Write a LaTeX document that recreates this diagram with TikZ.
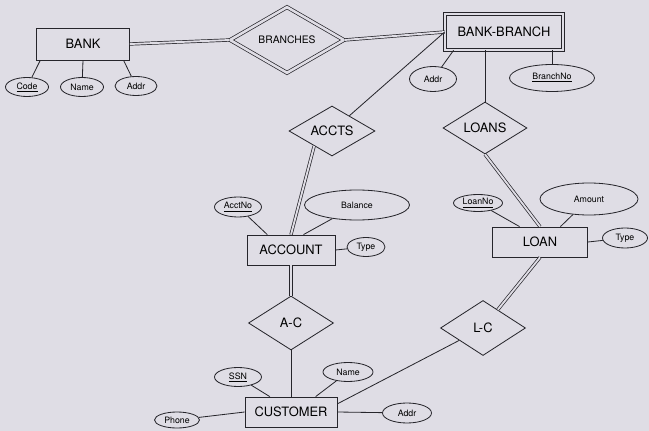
\documentclass[tikz,border=0pt]{standalone}
\usepackage{fontspec}
\setmainfont{TeX Gyre Heros}
\usepackage{tikz}
\usetikzlibrary{shapes.geometric}
\definecolor{paper}{HTML}{DFDDE5}
\definecolor{ink}{HTML}{26252B}
\tikzset{
  entity/.style={draw=ink,line width=0.7pt,minimum height=9mm,inner sep=0pt,
                 font=\fontsize{11}{12}\selectfont},
  weakentity/.style={entity,double=paper,double distance=2.2pt,line width=0.6pt},
  rel/.style={diamond,aspect=1.7,draw=ink,line width=0.7pt,inner sep=0pt,
              font=\fontsize{11}{12}\selectfont},
  idrel/.style={rel,double=paper,double distance=2.2pt,line width=0.6pt},
  attr/.style={ellipse,draw=ink,line width=0.7pt,inner sep=0pt,
               font=\fontsize{7.5}{8}\selectfont},
  link/.style={draw=ink,line width=0.7pt},
  total/.style={draw=ink,double=paper,double distance=1.6pt,line width=0.6pt}
}
\begin{document}
\begin{tikzpicture}[x=0.03cm,y=-0.03cm]
\useasboundingbox (0,0) rectangle (649,431);
\fill[paper] (0,0) rectangle (649,431);
% entities and relationships
\node[entity,minimum width=27.9mm,minimum height=9.6mm] (bank) at (83,44) {BANK};
\node[idrel,minimum width=34.2mm,minimum height=19.8mm,font=\fontsize{8.8}{10}\selectfont] (branches) at (287,40) {BRANCHES};
\node[weakentity,minimum width=35.4mm,minimum height=10.8mm] (bankbranch) at (504,32) {BANK-BRANCH};
\node[rel,minimum width=25.8mm,minimum height=15mm] (accts) at (332,131) {ACCTS};
\node[rel,minimum width=25.2mm,minimum height=15.6mm] (loans) at (485,128) {LOANS};
\node[entity,minimum width=26.4mm] (account) at (291,250) {ACCOUNT};
\node[entity,minimum width=28.5mm] (loan) at (540,242) {LOAN};
\node[rel,minimum width=25.5mm,minimum height=16.2mm] (ac) at (291,323) {A-C};
\node[rel,minimum width=25.5mm,minimum height=16.5mm] (lc) at (483,328) {L-C};
\node[entity,minimum width=27.6mm] (customer) at (291,412) {CUSTOMER};
% attributes
\node[attr,minimum width=12.9mm,minimum height=5.7mm] (bcode) at (27,87) {\underline{Code}};
\node[attr,minimum width=12.9mm,minimum height=5.7mm] (bname) at (82,87) {Name};
\node[attr,minimum width=12.6mm,minimum height=5.7mm] (baddr) at (136,86) {Addr};
\node[attr,minimum width=14.1mm,minimum height=7.5mm] (bbaddr) at (433,79) {Addr};
\node[attr,minimum width=25.5mm,minimum height=8.1mm] (branchno) at (552,78) {\underline{BranchNo}};
\node[attr,minimum width=14.1mm,minimum height=6mm] (acctno) at (238,207) {\underline{AcctNo}};
\node[attr,minimum width=31.5mm,minimum height=9mm] (balance) at (357,205) {Balance};
\node[attr,minimum width=11.4mm,minimum height=5.7mm] (atype) at (366,247) {Type};
\node[attr,minimum width=14.7mm,minimum height=5.1mm] (loanno) at (478,203) {\underline{LoanNo}};
\node[attr,minimum width=29.4mm,minimum height=9.6mm] (amount) at (589,199) {Amount};
\node[attr,minimum width=13.5mm,minimum height=6mm] (ltype) at (625,238) {Type};
\node[attr,minimum width=14.1mm,minimum height=5.7mm] (ssn) at (238,377) {\underline{SSN}};
\node[attr,minimum width=15mm,minimum height=5.7mm] (cname) at (348,372) {Name};
\node[attr,minimum width=13.5mm,minimum height=4.8mm] (phone) at (177,420) {Phone};
\node[attr,minimum width=14.7mm,minimum height=6mm] (caddr) at (407,413) {Addr};
% connectors
\draw[link] (bank.201)--(bcode);
\draw[link] (bank.south)--(bname);
\draw[link] (bank.338)--(baddr);
\draw[total] (bank.east)--(branches.west);
\draw[total] (branches.east)--(bankbranch.west);
\draw[link] (bankbranch.200)--(bbaddr);
\draw[link] (bankbranch.south -| branchno.north)--(branchno.north);
\draw[link] (bankbranch.south -| loans.north)--(loans.north);
\draw[link] (accts)--(bankbranch.west);
\draw[total] (accts.220)--(account.north);
\draw[link] (acctno)--(account.147);
\draw[link] (balance)--(account.51);
\draw[link] (account.east)--(atype);
\draw[total] (account.south)--(ac.north);
\draw[link] (ac.south)--(customer.north);
\draw[link] (ssn)--(customer.144);
\draw[link] (cname)--(customer.32);
\draw[link] (phone)--(customer.west);
\draw[link] (customer.east)--(caddr);
\draw[link] (customer.10)--(lc);
\draw[total] (lc)--(loan.south);
\draw[total] (loans.south)--(loan.north);
\draw[link] (loanno)--(loan.143);
\draw[link] (amount)--(loan.37);
\draw[link] (loan.east)--(ltype);
\end{tikzpicture}
\end{document}
